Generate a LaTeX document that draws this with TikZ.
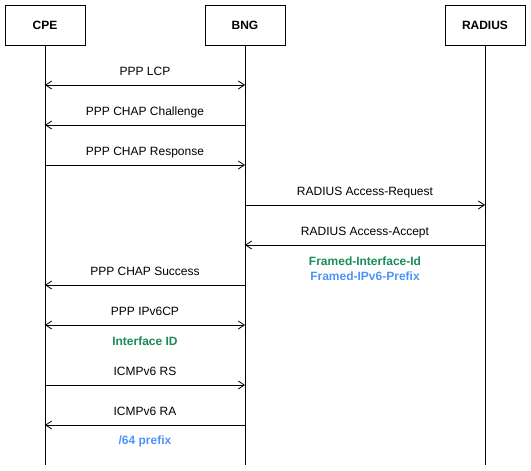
\documentclass[tikz,border=0pt]{standalone}
\usepackage{fontspec}
\setmainfont{Liberation Sans}
\usetikzlibrary{arrows.meta}
\definecolor{lblgreen}{HTML}{1A8C5B}
\definecolor{lblblue}{HTML}{4D94F8}
\begin{document}
\begin{tikzpicture}[x=1pt,y=-1pt,
  every node/.style={font=\fontsize{12}{14}\selectfont, inner sep=0pt},
  actor/.style={draw, line width=1pt, minimum width=80pt, minimum height=40pt, font=\fontsize{12}{14}\selectfont\bfseries},
  life/.style={line width=1pt},
  msg/.style={line width=1pt, -{Straight Barb[length=6pt,width=8pt,line width=0.8pt]}},
  bmsg/.style={line width=1pt, {Straight Barb[length=6pt,width=8pt,line width=0.8pt]}-{Straight Barb[length=6pt,width=8pt,line width=0.8pt]}},
  lbl/.style={anchor=base},
  glbl/.style={anchor=base, text=lblgreen, font=\fontsize{12}{14}\selectfont\bfseries},
  blbl/.style={anchor=base, text=lblblue, font=\fontsize{12}{14}\selectfont\bfseries}]
\useasboundingbox (0,0) rectangle (531,471);
\node[actor] (cpe) at (45,25) {CPE};
\node[actor] (bng) at (245,25) {BNG};
\node[actor] (radius) at (485,25) {RADIUS};
\coordinate (cpeend) at (45,465);
\coordinate (bngend) at (245,465);
\coordinate (radend) at (485,465);
\draw[life] (cpe.south) -- (cpeend);
\draw[life] (bng.south) -- (bngend);
\draw[life] (radius.south) -- (radend);
% message points
\foreach \n/\y in {1/85,2/125,3/165,6/285,7/325,8/385,9/425}{
  \coordinate (c\n) at (45,\y);
  \coordinate (b\n) at (245,\y);
}
\foreach \n/\y in {4/205,5/245}{
  \coordinate (b\n) at (245,\y);
  \coordinate (r\n) at (485,\y);
}
\draw[bmsg] (c1) -- (b1);
\node[lbl] (m1) at (145,75.5) {PPP LCP};
\draw[msg] (b2) -- (c2);
\node[lbl] (m2) at (145,115.5) {PPP CHAP Challenge};
\draw[msg] (c3) -- (b3);
\node[lbl] (m3) at (145,155.5) {PPP CHAP Response};
\draw[msg] (b4) -- (r4);
\node[lbl] (m4) at (365,195.5) {RADIUS Access-Request};
\draw[msg] (r5) -- (b5);
\node[lbl] (m5) at (365,235.5) {RADIUS Access-Accept};
\node[glbl] (a1) at (365,265) {Framed-Interface-Id};
\node[blbl] (a2) at (365,280) {Framed-IPv6-Prefix};
\draw[msg] (b6) -- (c6);
\node[lbl] (m6) at (145,275.5) {PPP CHAP Success};
\draw[bmsg] (c7) -- (b7);
\node[lbl] (m7) at (145,315.5) {PPP IPv6CP};
\node[glbl] (a3) at (145,345) {Interface ID};
\draw[msg] (c8) -- (b8);
\node[lbl] (m8) at (145,375.5) {ICMPv6 RS};
\draw[msg] (b9) -- (c9);
\node[lbl] (m9) at (145,415.5) {ICMPv6 RA};
\node[blbl] (a4) at (145,444.5) {/64 prefix};
\end{tikzpicture}
\end{document}
